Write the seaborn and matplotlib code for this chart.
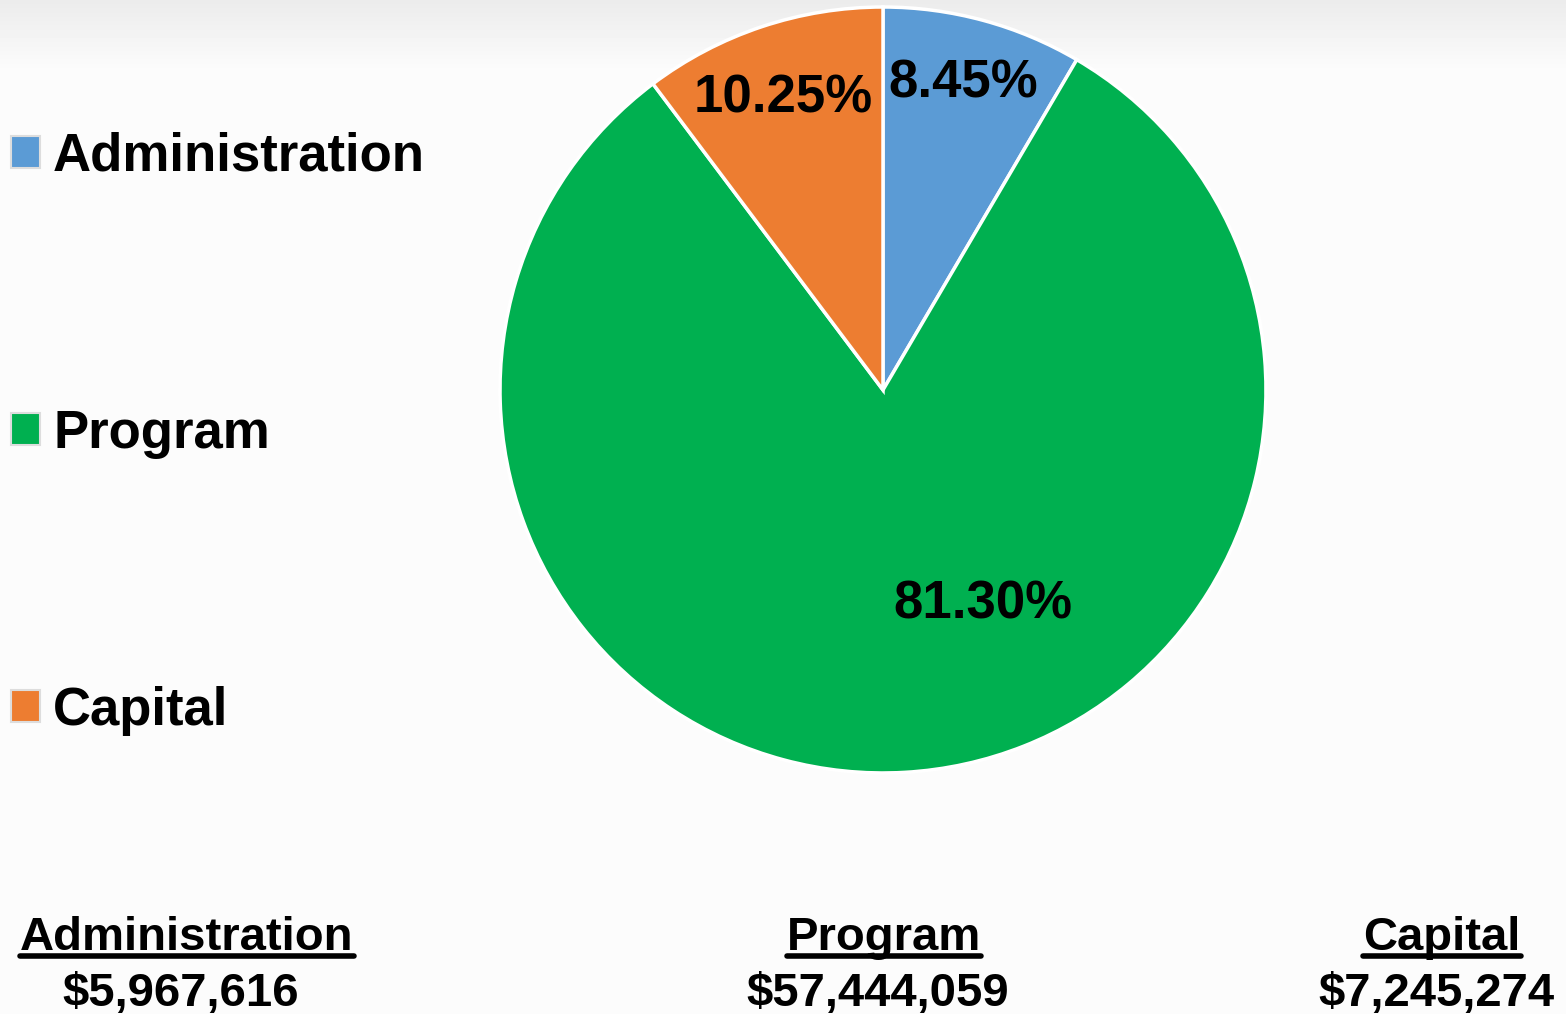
import numpy as np
import matplotlib.pyplot as plt
import seaborn as sns
from matplotlib.lines import Line2D

sns.set_theme(style="white")
plt.rcParams['font.family'] = ['Liberation Sans', 'DejaVu Sans']
plt.rcParams['font.weight'] = 'bold'
plt.rcParams['text.color'] = 'black'

# Budget data
categories = ['Administration', 'Program', 'Capital']
amounts = [5967616, 57444059, 7245274]
amount_labels = ['$5,967,616', '$57,444,059', '$7,245,274']
colors = ['#5B9BD5', '#00B050', '#ED7D31']

fig = plt.figure(figsize=(15.66, 10.14), dpi=100)
fig.patch.set_facecolor('#fcfcfc')

# soft gray band at the top
bg = fig.add_axes([0, 0, 1, 1], zorder=-10)
grad = np.linspace(0.925, 0.988, 12)
grad = np.concatenate([grad, np.full(150, 0.988)])[:, None]
bg.imshow(grad, cmap='gray', vmin=0, vmax=1, aspect='auto', extent=[0, 1, 0, 1],
          interpolation='bilinear')
bg.axis('off')

ax = fig.add_axes([0.3193, 0.2377, 0.4891, 0.7554])
wedges, texts, pct_texts = ax.pie(
    amounts, colors=colors, startangle=90, counterclock=False,
    autopct='%.2f%%', pctdistance=0.81, radius=1,
    wedgeprops=dict(edgecolor='white', linewidth=2.5),
    textprops=dict(fontsize=38, fontweight='bold', color='black'))
# label positions inside slices
pct_texts[0].set_position((0.21, 0.80))
pct_texts[2].set_position((-0.26, 0.76))
pct_texts[1].set_position((0.26, -0.56))
ax.set_xlim(-1.0, 1.0)
ax.set_ylim(-1.0, 1.0)
ax.set_aspect('equal')

leg = fig.legend(wedges, categories, loc='upper left',
                 bbox_to_anchor=(0.007, 0.87), frameon=False,
                 prop=dict(size=38, weight='bold'),
                 handlelength=0.55, handleheight=0.55, handletextpad=0.25,
                 labelspacing=4.3, borderpad=0, borderaxespad=0)
for h in leg.legend_handles:
    h.set_edgecolor('#dddddd')
    h.set_linewidth(1.5)
for t in leg.get_texts():
    t.set_color('black')

# bottom summary with underlined headings
col_x = [187 / 1566, 884 / 1566, 1442 / 1566]
fig.canvas.draw()
renderer = fig.canvas.get_renderer()
for x, name, amt in zip(col_x, categories, amount_labels):
    t = fig.text(x, 1 - 950 / 1014, name, ha='center', va='baseline',
                 fontsize=34, fontweight='bold', color='black')
    fig.text(x - 6 / 1566, 1 - 1006 / 1014, amt, ha='center', va='baseline',
             fontsize=34, fontweight='bold', color='black')
    bb = t.get_window_extent(renderer=renderer)
    y_line = 1 - 956 / 1014
    fig.add_artist(Line2D([bb.x0 / 1566, bb.x1 / 1566], [y_line, y_line],
                          color='black', linewidth=4, transform=fig.transFigure))

fig.savefig('out.png', dpi=100, facecolor=fig.get_facecolor())
